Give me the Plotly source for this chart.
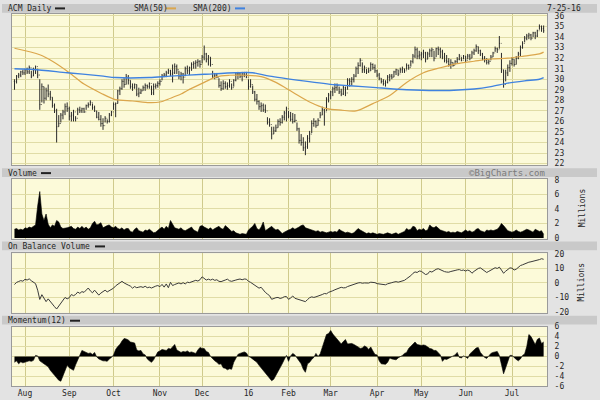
import pandas as pd
import plotly.graph_objects as go

# ---------------- data ----------------
HOLIDAYS = ["2015-09-07", "2015-11-26", "2015-12-25", "2016-01-01", "2016-01-18",
            "2016-02-15", "2016-03-25", "2016-05-30", "2016-07-04"]
days = [d for d in pd.bdate_range("2015-07-27", "2016-07-25")
        if d.strftime("%Y-%m-%d") not in HOLIDAYS]

lows = [29.0, 29.6, 30.1, 30.2, 30.4, 30.4, 30.5, 30.5, 30.1, 30.3,
        30.5, 30.1, 27.1, 27.8, 27.7, 28.0, 28.3, 28.0, 27.3, 26.8,
        24.0, 25.5, 25.9, 26.2, 26.6, 26.9, 26.1, 26.0, 26.0, 26.0,
        26.6, 26.8, 26.8, 26.8, 27.1, 27.3, 27.5, 27.1, 26.9, 26.3,
        26.1, 25.5, 25.2, 25.9, 25.8, 25.9, 26.5, 27.1, 26.4, 27.7,
        28.5, 29.0, 29.2, 29.5, 29.5, 29.1, 28.9, 29.1, 28.4, 28.3,
        28.6, 28.9, 28.9, 29.1, 29.1, 28.5, 28.5, 29.1, 29.2, 29.4,
        29.9, 30.2, 30.2, 30.5, 30.3, 29.7, 30.5, 30.5, 30.0, 29.9,
        29.6, 30.3, 30.5, 30.4, 30.8, 31.0, 31.0, 31.2, 31.1, 31.5,
        31.8, 31.6, 31.3, 31.2, 30.1, 30.0, 30.1, 29.2, 28.9, 29.0,
        29.1, 29.0, 29.2, 29.0, 29.3, 29.8, 30.0, 30.1, 29.8, 30.2,
        30.1, 29.0, 29.2, 28.6, 27.9, 27.6, 27.1, 26.9, 26.9, 26.8,
        25.7, 25.5, 24.3, 24.8, 25.0, 25.4, 25.6, 25.8, 26.1, 26.0,
        26.3, 26.0, 25.8, 25.9, 25.1, 23.9, 23.7, 23.2, 22.8, 23.4,
        24.0, 24.9, 25.5, 25.4, 25.6, 26.3, 26.6, 25.6, 27.0, 27.8,
        28.1, 28.4, 28.7, 28.9, 28.6, 28.4, 28.5, 28.4, 29.0, 29.3,
        29.4, 29.7, 30.2, 30.5, 31.2, 30.6, 30.6, 30.5, 30.6, 30.8,
        30.9, 30.6, 30.2, 29.9, 29.6, 29.4, 29.3, 29.6, 29.8, 30.0,
        30.2, 30.4, 30.3, 30.6, 30.6, 30.6, 30.9, 30.9, 31.2, 31.5,
        32.0, 31.9, 31.9, 31.8, 32.0, 31.6, 31.9, 32.1, 32.1, 31.7,
        32.1, 32.3, 32.0, 31.9, 31.6, 31.5, 31.2, 31.0, 31.2, 31.4,
        31.5, 31.8, 31.7, 31.9, 31.6, 31.9, 31.8, 32.0, 32.3, 32.6,
        32.4, 32.2, 31.8, 31.6, 31.4, 31.4, 31.8, 32.1, 32.6, 32.5,
        32.9, 30.6, 29.2, 29.8, 30.3, 30.7, 31.3, 31.2, 31.4, 31.9,
        32.2, 32.9, 33.5, 33.7, 33.8, 33.7, 34.0, 33.8, 34.0, 34.7,
        34.5, 34.4]

highs = [30.0, 30.4, 30.6, 30.8, 30.9, 31.0, 31.1, 31.3, 30.8, 31.1,
         31.3, 31.0, 30.0, 29.6, 29.3, 29.2, 29.5, 28.9, 28.3, 27.7,
         27.2, 26.6, 26.8, 27.1, 27.7, 27.8, 27.4, 26.9, 27.1, 26.5,
         27.3, 27.4, 27.3, 27.3, 27.6, 27.8, 28.0, 27.7, 27.5, 27.0,
         26.9, 26.6, 26.3, 26.5, 26.2, 26.8, 27.0, 27.8, 27.8, 29.0,
         29.3, 30.0, 30.1, 30.5, 30.4, 29.9, 29.6, 29.6, 29.5, 29.2,
         29.1, 29.4, 29.6, 29.5, 29.7, 29.4, 29.6, 29.6, 29.8, 30.0,
         30.5, 30.6, 30.8, 31.0, 30.9, 31.4, 31.5, 31.4, 30.8, 30.7,
         30.6, 31.2, 31.3, 31.2, 31.6, 31.7, 31.8, 31.9, 31.8, 32.3,
         33.2, 32.5, 32.3, 32.1, 30.8, 30.6, 30.6, 30.1, 29.8, 29.9,
         29.8, 29.7, 30.0, 29.6, 30.0, 30.6, 30.7, 30.6, 30.7, 30.7,
         30.7, 30.0, 30.0, 29.4, 28.9, 28.6, 28.0, 27.8, 27.7, 27.6,
         26.4, 26.3, 25.5, 25.5, 25.7, 26.2, 26.3, 26.6, 27.0, 27.4,
         27.0, 26.9, 26.8, 26.7, 25.9, 25.4, 24.8, 24.5, 24.1, 24.7,
         25.1, 26.1, 26.3, 26.1, 26.3, 26.9, 27.4, 27.2, 28.3, 28.7,
         28.9, 29.3, 29.6, 29.6, 29.3, 29.1, 29.4, 29.3, 30.1, 30.1,
         30.2, 30.5, 31.2, 31.6, 32.0, 31.6, 31.3, 31.0, 31.1, 31.6,
         31.5, 31.4, 30.9, 30.6, 30.1, 30.0, 29.9, 30.4, 30.5, 30.5,
         30.8, 31.0, 30.9, 31.1, 31.2, 31.0, 31.5, 31.4, 31.8, 32.4,
         33.1, 33.0, 32.7, 32.6, 32.8, 32.6, 32.6, 32.9, 33.0, 32.7,
         33.0, 33.1, 33.0, 32.8, 32.5, 32.3, 32.0, 31.9, 31.6, 31.8,
         32.1, 32.4, 32.1, 32.3, 32.2, 32.4, 32.4, 32.7, 32.9, 33.3,
         33.1, 32.8, 32.5, 32.2, 32.0, 31.9, 32.3, 32.6, 33.1, 33.0,
         34.1, 32.5, 30.9, 30.9, 31.4, 31.8, 32.1, 31.9, 32.2, 32.6,
         33.2, 33.6, 34.1, 34.3, 34.4, 34.3, 34.5, 34.5, 34.7, 35.2,
         35.1, 35.1]

closes = [29.8, 30.3, 30.4, 30.7, 30.6, 30.9, 30.7, 31.1, 30.3, 30.9,
          31.2, 30.4, 27.6, 29.3, 28.2, 28.9, 28.6, 28.3, 27.5, 27.0,
          25.5, 25.8, 26.6, 26.9, 27.4, 27.2, 26.5, 26.6, 26.9, 26.3,
          27.1, 27.0, 27.2, 26.9, 27.5, 27.6, 27.8, 27.3, 27.0, 26.4,
          26.2, 25.8, 25.6, 26.3, 26.0, 26.6, 26.9, 27.6, 27.7, 28.9,
          29.1, 29.8, 29.5, 30.2, 29.9, 29.3, 29.2, 29.5, 28.6, 28.7,
          28.9, 29.2, 29.4, 29.3, 29.6, 28.7, 29.3, 29.4, 29.6, 29.8,
          30.3, 30.4, 30.6, 30.8, 30.5, 30.6, 31.2, 30.9, 30.3, 30.5,
          30.2, 31.0, 30.8, 31.1, 31.4, 31.5, 31.6, 31.7, 31.4, 32.1,
          32.4, 31.9, 32.1, 31.4, 30.3, 30.4, 30.2, 29.4, 29.1, 29.6,
          29.3, 29.4, 29.8, 29.2, 29.9, 30.5, 30.5, 30.3, 30.5, 30.4,
          30.2, 29.3, 29.5, 28.8, 28.1, 27.9, 27.4, 27.5, 27.1, 27.0,
          25.9, 25.7, 24.8, 25.1, 25.4, 26.0, 25.9, 26.4, 26.8, 27.2,
          26.5, 26.2, 26.0, 26.1, 25.3, 24.2, 24.0, 23.5, 23.6, 24.4,
          24.8, 25.8, 26.0, 25.6, 26.1, 26.6, 27.1, 26.9, 28.1, 28.5,
          28.8, 29.1, 29.2, 29.4, 28.8, 28.6, 29.2, 28.7, 29.9, 29.8,
          30.0, 30.3, 31.0, 31.3, 31.8, 30.9, 31.1, 30.7, 30.8, 31.4,
          31.1, 30.8, 30.4, 30.1, 29.8, 29.6, 29.7, 30.2, 30.3, 30.2,
          30.7, 30.9, 30.5, 30.9, 31.0, 30.8, 31.3, 31.1, 31.7, 32.2,
          32.8, 32.2, 32.3, 32.4, 32.5, 31.9, 32.4, 32.7, 32.8, 32.0,
          32.9, 32.8, 32.6, 32.1, 31.8, 31.7, 31.4, 31.6, 31.3, 31.7,
          31.9, 32.2, 31.8, 32.2, 31.8, 32.2, 32.0, 32.5, 32.7, 33.1,
          32.7, 32.4, 32.0, 31.8, 31.6, 31.7, 32.1, 32.5, 32.9, 32.8,
          33.4, 30.9, 29.5, 30.6, 31.1, 31.5, 31.9, 31.4, 32.0, 32.4,
          33.0, 33.4, 33.9, 34.1, 34.2, 33.9, 34.4, 34.1, 34.6, 35.0,
          34.8, 34.6]

opens = [closes[0]] + closes[:-1]

volume_m = [1.2, 1.3, 1.1, 1.2, 1.1, 1.4, 1.3, 1.5, 1.4, 1.6,
            1.8, 4.4, 6.4, 3.3, 2.4, 3.3, 1.9, 1.4, 1.8, 1.6,
            2.4, 2.2, 1.5, 1.3, 1.3, 1.4, 1.5, 1.6, 1.3, 1.2,
            1.5, 1.3, 1.6, 1.3, 1.5, 1.2, 1.4, 2.0, 2.3, 1.8,
            1.9, 2.1, 1.4, 1.6, 1.7, 1.8, 1.5, 1.4, 1.6, 1.3,
            1.2, 1.4, 1.1, 1.3, 1.3, 0.9, 0.8, 1.2, 1.4, 1.0,
            0.9, 0.8, 1.1, 1.0, 1.2, 0.9, 0.7, 0.8, 1.1, 1.3,
            1.5, 1.2, 1.6, 1.3, 2.4, 1.9, 1.4, 1.3, 1.2, 1.4,
            1.1, 1.0, 1.2, 1.3, 1.5, 1.1, 1.0, 0.8, 1.6, 1.7,
            1.5, 1.3, 1.2, 1.4, 1.1, 1.3, 1.5, 1.6, 1.3, 1.2,
            1.7, 1.5, 1.2, 0.9, 1.0, 0.7, 0.6, 0.5, 0.6, 0.5,
            0.5, 1.1, 1.3, 1.6, 2.0, 1.3, 1.1, 1.5, 2.2, 1.0,
            1.2, 1.4, 1.6, 1.3, 1.1, 1.2, 0.9, 0.6, 0.8, 1.0,
            1.1, 1.2, 1.4, 1.2, 1.3, 1.5, 1.7, 1.8, 1.4, 1.3,
            1.2, 1.1, 1.0, 0.9, 1.0, 0.8, 0.9, 0.8, 0.7, 0.8,
            0.9, 0.8, 0.9, 0.8, 1.2, 1.0, 0.9, 0.7, 0.8, 0.7,
            0.6, 0.7, 1.0, 1.3, 1.1, 0.9, 0.8, 0.6, 0.7, 0.6,
            0.7, 0.6, 0.5, 0.6, 0.5, 0.5, 0.6, 0.7, 0.6, 0.5,
            0.6, 0.7, 0.5, 0.6, 0.8, 0.9, 1.3, 1.1, 1.2, 1.6,
            1.5, 1.0, 1.2, 1.1, 1.3, 1.0, 1.1, 1.8, 1.5, 1.4,
            1.6, 1.3, 1.1, 1.0, 0.9, 0.8, 0.9, 0.7, 0.8, 0.7,
            0.9, 0.8, 0.7, 0.9, 1.1, 0.9, 1.0, 0.8, 0.9, 1.2,
            1.3, 1.0, 0.9, 0.8, 1.1, 1.0, 1.1, 1.0, 1.1, 1.2,
            1.5, 2.0, 1.7, 1.4, 1.0, 0.9, 0.8, 0.9, 1.1, 0.9,
            0.8, 0.9, 1.0, 1.2, 1.1, 0.9, 0.8, 1.2, 1.1, 0.9,
            1.0, 0.5]

obv_m = [-1.1, 0.4, 1.0, 1.6, 1.2, 2.5, 2.0, 2.8, 1.5, 0.4,
         -0.5, -5.0, -11.4, -8.1, -10.5, -12.9, -11.0, -13.0, -14.8, -16.4,
         -18.0, -16.0, -14.5, -12.2, -10.0, -11.0, -10.2, -8.0, -8.8, -8.0,
         -6.3, -7.2, -6.0, -6.5, -4.7, -3.5, -5.5, -6.8, -5.0, -6.8,
         -8.4, -7.0, -6.0, -5.0, -6.2, -5.5, -4.5, -3.6, -2.0, -1.0,
         0.2, 1.1, 0.0, -0.5, -1.5, -2.2, -3.6, -2.5, -3.3, -2.9,
         -2.6, -3.1, -2.3, -3.3, -2.9, -3.5, -2.6, -2.2, -1.8, -2.6,
         -1.0, -2.9, -0.7, -3.3, 0.4, -1.8, -1.1, -0.7, 0.0, -0.7,
         0.2, -0.7, 0.5, 0.2, 0.8, 1.5, 1.8, 1.3, 2.2, 4.2,
         3.0, 2.0, 2.6, 2.0, 2.6, 1.8, 2.2, 1.1, 0.9, 1.7,
         2.0, 2.6, 1.5, 1.1, 1.8, 2.0, 2.4, 2.7, 2.2, 2.7,
         2.6, 1.1, 0.4, -0.7, -1.5, -2.6, -3.6, -3.0, -5.1, -6.5,
         -7.7, -8.8, -11.3, -10.5, -10.2, -10.0, -10.7, -10.3, -9.5, -9.4,
         -11.3, -10.4, -9.0, -10.6, -11.0, -11.3, -12.0, -12.5, -12.9, -11.5,
         -10.2, -9.6, -10.0, -9.6, -9.2, -8.5, -8.0, -7.3, -7.5, -6.5,
         -6.2, -5.4, -4.7, -4.2, -3.3, -3.0, -3.4, -3.3, -2.5, -1.9,
         -1.8, -1.1, -0.5, 0.0, 0.2, -0.2, 0.0, -0.3, -0.1, 0.5,
         0.4, 0.2, -0.5, -0.7, -1.2, -1.4, -1.3, -0.6, -0.4, 0.2,
         0.6, 0.9, 0.5, 1.0, 1.6, 1.8, 2.9, 3.9, 5.0, 6.6,
         7.6, 7.2, 8.2, 8.0, 6.8, 5.8, 6.2, 8.0, 7.5, 8.5,
         9.4, 9.8, 9.0, 8.2, 7.8, 7.5, 7.4, 7.9, 8.0, 8.6,
         9.0, 9.2, 8.6, 8.9, 8.2, 8.9, 8.3, 6.7, 8.0, 9.2,
         10.0, 10.4, 9.2, 8.4, 7.2, 8.0, 9.0, 9.5, 10.5, 10.0,
         10.9, 8.9, 6.7, 8.1, 9.1, 10.4, 10.2, 8.9, 9.5, 11.0,
         12.0, 12.5, 13.2, 13.8, 14.3, 14.6, 14.9, 15.2, 15.3, 16.1,
         16.7, 16.3]

momentum = [-1.2, -0.9, -1.5, -1.1, -1.3, -1.2, -1.1, -0.9, -1.0, -0.8,
            0.2, 0.1, -0.9, -1.2, -1.5, -1.8, -2.1, -2.8, -3.2, -3.8,
            -4.3, -4.8, -5.0, -4.0, -3.0, -1.8, -2.3, -2.6, -2.8, -1.7,
            -0.8, 0.2, 1.2, 1.0, 0.8, 0.6, 0.7, 0.4, 0.8, -0.1,
            -0.5, -0.7, -0.9, -0.9, -1.0, -0.5, -0.2, 0.3, 1.4, 2.0,
            2.4, 3.1, 3.6, 3.5, 3.3, 2.9, 2.8, 2.7, 1.3, 1.1,
            1.2, 0.5, 0.3, -0.5, -0.9, -1.2, -0.7, 0.1, 0.9, 1.1,
            1.4, 1.3, 1.2, 1.6, 1.5, 1.9, 2.4, 1.3, 1.1, 0.8,
            1.0, 0.9, 1.1, 0.8, 0.9, 0.7, 0.6, 1.3, 1.8, 1.6,
            1.6, 1.0, 0.8, 0.0, -0.5, -0.9, -1.2, -1.6, -1.5, -2.3,
            -2.4, -2.7, -2.5, -2.6, -1.2, -0.3, 0.4, 0.6, 0.8, 0.9,
            0.7, 0.0, -0.2, -0.5, -0.9, -1.2, -1.8, -2.3, -2.8, -3.2,
            -3.8, -4.2, -4.9, -4.6, -3.9, -3.0, -2.2, -1.5, -0.6, 0.2,
            -1.0, 0.1, 0.6, 0.3, -0.3, -1.0, -1.5, -2.6, -3.2, -1.5,
            -1.2, -0.6, -0.2, 0.6, 0.0, 0.5, 1.8, 3.0, 4.4, 4.6,
            5.2, 4.5, 4.0, 3.5, 3.0, 2.5, 3.0, 3.4, 2.5, 2.6,
            2.6, 2.4, 2.2, 1.9, 1.6, 1.7, 2.1, 1.9, 1.4, 1.9,
            1.1, 0.4, 0.3, -0.9, -1.5, -1.6, -1.6, -1.2, -0.3, -0.5,
            -0.6, -0.7, -0.3, -0.1, 0.2, 0.6, 0.8, 1.6, 2.0, 2.4,
            2.9, 2.4, 2.3, 2.2, 2.3, 2.2, 1.9, 1.6, 1.5, 1.2,
            1.2, 0.8, 0.3, -1.0, -0.5, -0.6, -0.4, -0.2, 0.1, 0.3,
            0.8, -0.2, -0.3, 0.1, -0.1, -0.4, 0.5, 0.9, 1.3, 1.7,
            1.8, 0.8, 0.3, -0.2, -0.4, 0.2, 0.6, 0.8, 0.9, 1.0,
            0.2, -1.5, -3.5, -2.3, -0.8, 0.2, 0.2, -0.3, -0.6, -0.9,
            -0.5, 0.2, 0.5, 2.0, 4.4, 4.0, 3.2, 2.4, 3.4, 3.7,
            2.6, 2.9]

sma50_dates = ["2015-07-27", "2015-08-12", "2015-08-20", "2015-09-01", "2015-09-11",
               "2015-09-23", "2015-10-02", "2015-10-14", "2015-10-26", "2015-11-02",
               "2015-11-09", "2015-11-16", "2015-11-19", "2015-12-02", "2015-12-10",
               "2015-12-18", "2015-12-31", "2016-01-12", "2016-01-22", "2016-02-03",
               "2016-02-16", "2016-02-26", "2016-03-08", "2016-03-17", "2016-03-30",
               "2016-04-11", "2016-04-21", "2016-05-03", "2016-05-13", "2016-05-25",
               "2016-06-07", "2016-06-17", "2016-06-29", "2016-07-11", "2016-07-21",
               "2016-07-25"]
sma50_vals = [32.94, 32.32, 31.70, 30.62, 29.54, 28.68, 28.06, 27.94, 27.78, 27.84,
              28.20, 28.60, 28.93, 29.70, 30.25, 30.38, 30.38, 30.25, 29.70, 28.77,
              27.84, 27.22, 27.07, 27.00, 27.69, 28.46, 29.70, 30.62, 31.09, 31.49,
              31.71, 31.92, 32.00, 32.17, 32.40, 32.57]

sma200_dates = ["2015-07-27", "2015-08-07", "2015-08-31", "2015-09-23", "2015-10-02",
                "2015-10-26", "2015-11-09", "2015-12-02", "2015-12-23", "2016-01-06",
                "2016-01-19", "2016-02-10", "2016-03-03", "2016-03-14", "2016-03-30",
                "2016-04-21", "2016-05-13", "2016-06-07", "2016-06-17", "2016-06-29",
                "2016-07-12", "2016-07-21", "2016-07-25"]
sma200_vals = [31.00, 30.93, 30.62, 30.32, 30.16, 30.16, 30.30, 30.47, 30.62, 30.62,
               30.30, 29.85, 29.48, 29.39, 29.23, 29.00, 28.93, 29.08, 29.30, 29.63,
               29.85, 30.00, 30.16]

month_labels = ["Aug", "Sep", "Oct", "Nov", "Dec", "16", "Feb", "Mar", "Apr", "May", "Jun", "Jul"]
price_ticks = list(range(22, 37))
vol_ticks = [0, 2, 4, 6, 8]
obv_ticks = [-20, -10, 0, 10, 20]
mom_ticks = [-6, -4, -2, 0, 2, 4, 6]

# ---------------- helpers ----------------
W, H = 600, 400
def fx(px): return px / W
def fy(py): return 1 - py / H

xi = list(range(len(days)))
pos = {d.strftime("%Y-%m-%d"): i for i, d in enumerate(days)}
month_pos = [i for i in range(1, len(days)) if days[i].month != days[i - 1].month]

FONT = "DejaVu Sans Mono"
TXT = "#262626"
PLOT_BG = "#fcfad9"
GRID_H = "#e0dca6"
GRID_V = "#cfca8c"
FRAME = "#9a9a9a"
STRIP = "#c9c9c9"
PAPER = "#e3e3e3"
ORANGE = "#dba64c"
BLUE = "#3f82e0"

fig = go.Figure()
fig.add_trace(go.Ohlc(x=xi, open=opens, high=highs, low=lows, close=closes,
                      increasing=dict(line=dict(color="#2a2a2a", width=1)),
                      decreasing=dict(line=dict(color="#2a2a2a", width=1)),
                      tickwidth=0.3, xaxis="x", yaxis="y", hoverinfo="skip"))
fig.add_trace(go.Scatter(x=[pos[d] for d in sma50_dates], y=sma50_vals, mode="lines",
                         line=dict(color=ORANGE, width=1.2, shape="spline", smoothing=0.8),
                         xaxis="x", yaxis="y"))
fig.add_trace(go.Scatter(x=[pos[d] for d in sma200_dates], y=sma200_vals, mode="lines",
                         line=dict(color=BLUE, width=1.4, shape="spline", smoothing=0.8),
                         xaxis="x", yaxis="y"))
fig.add_trace(go.Scatter(x=xi, y=volume_m, mode="lines", fill="tozeroy",
                         fillcolor="#000000", line=dict(color="#000000", width=0.6),
                         xaxis="x2", yaxis="y2"))
fig.add_trace(go.Scatter(x=xi, y=obv_m, mode="lines",
                         line=dict(color="#3a3a3a", width=1),
                         xaxis="x3", yaxis="y3"))
fig.add_trace(go.Scatter(x=xi, y=momentum, mode="lines", fill="tozeroy",
                         fillcolor="#000000", line=dict(color="#000000", width=0.6),
                         xaxis="x4", yaxis="y4"))

XR = [-1.17, 252.6]
XD = [fx(12), fx(547)]

def xaxis(anchor, labels):
    return dict(domain=XD, range=XR, anchor=anchor, tickmode="array", tickvals=month_pos,
                ticktext=month_labels, showticklabels=labels, ticks="",
                ticklabelstandoff=-1,
                showgrid=True, gridcolor=GRID_V, gridwidth=1, zeroline=False,
                showline=True, mirror=True, linecolor=FRAME, linewidth=1,
                tickfont=dict(family=FONT, size=8, color=TXT), rangeslider=dict(visible=False),
                fixedrange=True)

def yaxis(anchor, dom, rng, tv, tt=None):
    return dict(domain=dom, range=rng, anchor=anchor, side="right", tickmode="array",
                tickvals=tv, ticktext=tt if tt else [str(v) for v in tv], ticks="",
                ticklabelstandoff=5, showgrid=True, gridcolor=GRID_H, gridwidth=1,
                zeroline=False, showline=True, mirror=True, linecolor=FRAME, linewidth=1,
                tickfont=dict(family=FONT, size=8, color=TXT), fixedrange=True)

shapes = []
# header strips
for (y0, y1) in [(0, 9), (168, 177), (243, 252), (319, 328)]:
    shapes.append(dict(type="rect", xref="paper", yref="paper", x0=fx(2), x1=fx(597),
                       y0=fy(y1), y1=fy(y0), fillcolor=STRIP, line=dict(width=0), layer="below"))
# legend markers
def seg(x0, x1, y, color):
    shapes.append(dict(type="line", xref="paper", yref="paper", x0=fx(x0), x1=fx(x1),
                       y0=fy(y), y1=fy(y), line=dict(color=color, width=2)))
seg(55, 65, 4.5, "#222222")
seg(166, 176, 4.5, ORANGE)
seg(235, 245, 4.5, BLUE)
seg(41, 51, 173, "#222222")
seg(95, 105, 248, "#222222")
seg(70, 80, 324, "#222222")

def txt(x, y, s, size=8, color=TXT, xanchor="left", angle=0):
    return dict(x=fx(x), y=fy(y), xref="paper", yref="paper", text=s, showarrow=False,
                xanchor=xanchor, yanchor="middle", textangle=angle,
                font=dict(family=FONT, size=size, color=color))

annotations = [
    txt(6, 4.5, "ACM Daily"),
    txt(132, 4.5, "SMA(50)"),
    txt(191, 4.5, "SMA(200)"),
    txt(545, 4.5, "7-25-16"),
    txt(6, 173, "Volume"),
    txt(547, 173, "©BigCharts.com", size=9, color="#7a7a7a", xanchor="right"),
    txt(6, 248, "On Balance Volume"),
    txt(6, 324, "Momentum(12)"),
    txt(582, 209, "Millions", angle=-90, xanchor="center"),
    txt(582, 285, "Millions", angle=-90, xanchor="center"),
]

fig.update_layout(
    width=W, height=H, margin=dict(l=0, r=0, t=0, b=0),
    paper_bgcolor=PAPER, plot_bgcolor=PLOT_BG, showlegend=False,
    xaxis=xaxis("y", False), xaxis2=xaxis("y2", False),
    xaxis3=xaxis("y3", False), xaxis4=xaxis("y4", True),
    yaxis=yaxis("x", [fy(165), fy(10)], [21.84, 36.21], price_ticks),
    yaxis2=yaxis("x2", [fy(240), fy(179)], [-0.09, 8.13], vol_ticks),
    yaxis3=yaxis("x3", [fy(316), fy(255)], [-20.67, 20.47], obv_ticks),
    yaxis4=yaxis("x4", [fy(391), fy(330)], [-6.0, 6.0], mom_ticks),
    shapes=shapes, annotations=annotations,
)
fig.write_html("out.html", config={"displayModeBar": False, "staticPlot": True},
               post_script="document.body.style.margin='0';document.body.style.overflow='hidden';")
